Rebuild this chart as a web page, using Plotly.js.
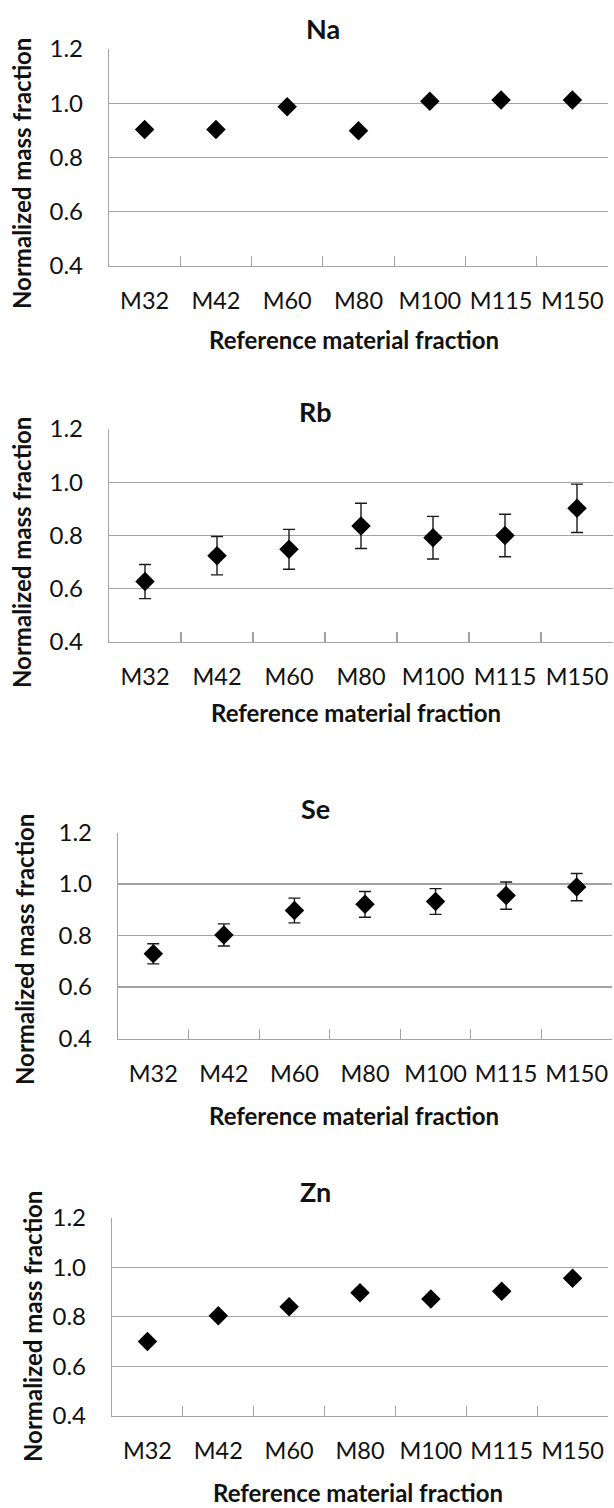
<!DOCTYPE html>
<html>
<head>
<meta charset="utf-8">
<script src="https://cdn.plot.ly/plotly-3.0.1.min.js"></script>
<style>
  html, body { margin: 0; padding: 0; background: #ffffff; }
  #chart { width: 614px; height: 1508px; }
</style>
</head>
<body>
<div id="chart"></div>
<script>
// ---------- data ----------
const categories = ['M32', 'M42', 'M60', 'M80', 'M100', 'M115', 'M150'];
const panelTitles = ['Na', 'Rb', 'Se', 'Zn'];
const naValues = [0.903, 0.903, 0.987, 0.899, 1.007, 1.012, 1.012];
const rbValues = [0.627, 0.724, 0.748, 0.836, 0.792, 0.800, 0.902];
const rbErrors = [0.064, 0.072, 0.075, 0.085, 0.080, 0.080, 0.091];
const seValues = [0.729, 0.802, 0.897, 0.921, 0.932, 0.955, 0.988];
const seErrors = [0.039, 0.043, 0.048, 0.050, 0.050, 0.053, 0.053];
const znValues = [0.700, 0.804, 0.840, 0.897, 0.872, 0.903, 0.955];
const yTickVals = [0.4, 0.6, 0.8, 1.0, 1.2];
const yTickText = ['0.4', '0.6', '0.8', '1.0', '1.2'];
const xAxisTitle = 'Reference material fraction';
const yAxisTitle = 'Normalized mass fraction';

// ---------- layout geometry (pixels) ----------
const W = 614, H = 1508;
const panels = [
  {left: 109, right: 608, top: 49,    bottom: 266,    titleX: 323, titleY: 28,   yTitleX: 21, yTitleY: 174,  xTitleX: 354, xTitleY: 340},
  {left: 109, right: 613, top: 429,   bottom: 642,    titleX: 315, titleY: 411,  yTitleX: 21, yTitleY: 553,  xTitleX: 356, xTitleY: 712},
  {left: 118, right: 612, top: 832.5, bottom: 1038.5, titleX: 315, titleY: 808,  yTitleX: 24, yTitleY: 950,  xTitleX: 354, xTitleY: 1115},
  {left: 112, right: 608, top: 1217.5,bottom: 1416,   titleX: 315, titleY: 1191, yTitleX: 32, yTitleY: 1327, xTitleX: 358, xTitleY: 1492}
];
const series = [
  {y: naValues, err: null},
  {y: rbValues, err: rbErrors},
  {y: seValues, err: seErrors},
  {y: znValues, err: null}
];

const FONT = 'Lato, "Open Sans", sans-serif';
const TXT = '#111111';
const GRID = '#a3a3a3';
const px = x => x / W;
const py = y => 1 - y / H;

const traces = [];
const layout = {
  width: W, height: H,
  margin: {l: 0, r: 0, t: 0, b: 0},
  paper_bgcolor: '#ffffff',
  plot_bgcolor: '#ffffff',
  showlegend: false,
  annotations: []
};

panels.forEach((p, i) => {
  const sfx = i === 0 ? '' : String(i + 1);
  const tr = {
    type: 'scatter', mode: 'markers',
    x: categories, y: series[i].y,
    xaxis: 'x' + sfx, yaxis: 'y' + sfx,
    marker: {symbol: 'diamond', size: 15, color: '#000000'},
    hoverinfo: 'skip'
  };
  if (series[i].err) {
    tr.error_y = {type: 'data', array: series[i].err, visible: true,
                  color: '#1a1a1a', thickness: 1.4, width: 6};
  }
  traces.push(tr);

  layout['xaxis' + sfx] = {
    domain: [px(p.left), px(p.right)],
    anchor: 'y' + sfx,
    type: 'category',
    categoryorder: 'array', categoryarray: categories,
    range: [-0.5, categories.length - 0.5],
    showgrid: false, zeroline: false,
    showline: true, linecolor: GRID, linewidth: 1.2,
    ticks: 'inside', tickson: 'boundaries', ticklen: 10, tickcolor: GRID, tickwidth: 1.2,
    tickangle: 0,
    ticklabelstandoff: 14,
    tickfont: {family: FONT, size: 23.5, color: TXT},
    fixedrange: true
  };
  layout['yaxis' + sfx] = {
    domain: [py(p.bottom), py(p.top)],
    anchor: 'x' + sfx,
    range: [0.4, 1.2],
    tickvals: yTickVals, ticktext: yTickText,
    showgrid: true, gridcolor: GRID, gridwidth: 1.2,
    zeroline: false,
    showline: true, linecolor: GRID, linewidth: 1.2,
    ticks: '',
    ticklabelstandoff: 20,
    tickfont: {family: FONT, size: 24, color: TXT},
    fixedrange: true
  };

  layout.annotations.push({
    text: '<b>' + panelTitles[i] + '</b>', xref: 'paper', yref: 'paper',
    x: px(p.titleX), y: py(p.titleY), xanchor: 'center', yanchor: 'middle',
    showarrow: false, font: {family: FONT, size: 27, color: TXT}
  });
  layout.annotations.push({
    text: '<b>' + xAxisTitle + '</b>', xref: 'paper', yref: 'paper',
    x: px(p.xTitleX), y: py(p.xTitleY), xanchor: 'center', yanchor: 'middle',
    showarrow: false, font: {family: FONT, size: 24, color: TXT}
  });
  layout.annotations.push({
    text: '<b>' + yAxisTitle + '</b>', xref: 'paper', yref: 'paper',
    x: px(p.yTitleX), y: py(p.yTitleY), xanchor: 'center', yanchor: 'middle',
    textangle: -90,
    showarrow: false, font: {family: FONT, size: 24, color: TXT}
  });
});

Plotly.newPlot('chart', traces, layout, {displayModeBar: false, staticPlot: true});
</script>
</body>
</html>
